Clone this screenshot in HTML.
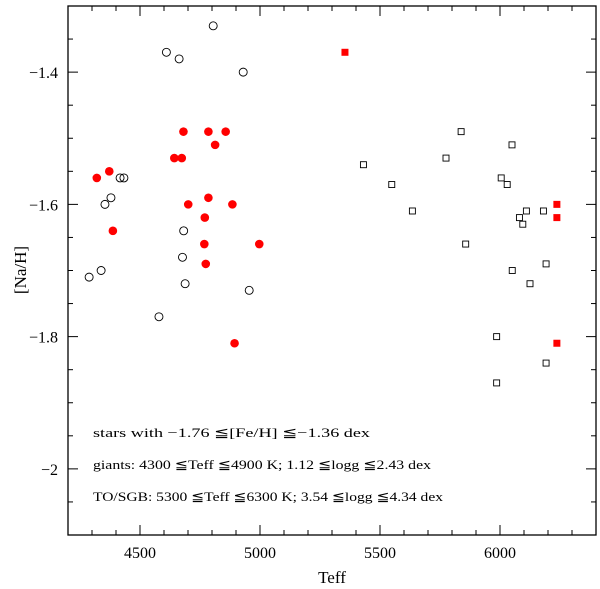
<!DOCTYPE html>
<html><head><meta charset="utf-8"><style>
html,body{margin:0;padding:0;background:#fff;}
svg{display:block;font-family:"Liberation Serif","DejaVu Serif",serif;}
</style></head><body>
<svg id="chart" width="600" height="589" viewBox="0 0 600 589" xmlns="http://www.w3.org/2000/svg">
<rect x="68" y="6" width="528" height="529" fill="none" stroke="#000" stroke-width="1.3"/>
<g id="ticks"></g>
<g id="points"></g>
<text x="93" y="437" font-size="13" textLength="277" lengthAdjust="spacingAndGlyphs">stars with −1.76 ≦[Fe/H] ≦−1.36 dex</text>
<text x="93" y="469" font-size="13" textLength="338" lengthAdjust="spacingAndGlyphs">giants: 4300 ≦Teff ≦4900 K; 1.12 ≦logg ≦2.43 dex</text>
<text x="93" y="501" font-size="13" textLength="350" lengthAdjust="spacingAndGlyphs">TO/SGB: 5300 ≦Teff ≦6300 K; 3.54 ≦logg ≦4.34 dex</text>
<text x="332" y="583" font-size="17" text-anchor="middle">Teff</text>
<text x="0" y="0" font-size="17" text-anchor="middle" transform="translate(26,270) rotate(-90)">[Na/H]</text>
</svg>
<script>
const xTicks = [4500, 5000, 5500, 6000];
const xTickLabels = ["4500", "5000", "5500", "6000"];
const yTicks = [-1.4, -1.6, -1.8, -2.0];
const yTickLabels = ["−1.4", "−1.6", "−1.8", "−2"];
const giantOpenT = [4805,4610,4663,4930,4417,4433,4379,4354,4682,4677,4338,4288,4688,4955,4579];
const giantOpenNa = [-1.33,-1.37,-1.38,-1.40,-1.56,-1.56,-1.59,-1.60,-1.64,-1.68,-1.70,-1.71,-1.72,-1.73,-1.77];
const giantRedT = [4681,4785,4857,4813,4643,4674,4372,4320,4785,4701,4885,4770,4387,4768,4997,4774,4894];
const giantRedNa = [-1.49,-1.49,-1.49,-1.51,-1.53,-1.53,-1.55,-1.56,-1.59,-1.60,-1.60,-1.62,-1.64,-1.66,-1.66,-1.69,-1.81];
const dwarfOpenT = [5838,6050,5775,5431,5549,6005,6030,5635,6110,6181,6081,6095,5857,6192,6051,6125,5986,6192,5986];
const dwarfOpenNa = [-1.49,-1.51,-1.53,-1.54,-1.57,-1.56,-1.57,-1.61,-1.61,-1.61,-1.62,-1.63,-1.66,-1.69,-1.70,-1.72,-1.80,-1.84,-1.87];
const dwarfRedT = [5354,6237,6237,6237];
const dwarfRedNa = [-1.37,-1.60,-1.62,-1.81];

const X0=68,X1=596,Y0=6,Y1=535,TMIN=4200,TMAX=6400,NMIN=-2.1,NMAX=-1.3;
function xs(t){return X0+(t-TMIN)/(TMAX-TMIN)*(X1-X0);}
function ys(v){return Y0+(NMAX-v)/(NMAX-NMIN)*(Y1-Y0);}
const NS="http://www.w3.org/2000/svg";
function mk(tag,attrs,parent){const e=document.createElementNS(NS,tag);for(const k in attrs)e.setAttribute(k,attrs[k]);parent.appendChild(e);return e;}
const tg=document.getElementById('ticks'), pg=document.getElementById('points'), svg=document.getElementById('chart');
function line(x1,y1,x2,y2){const l=mk('line',{x1,y1,x2,y2,stroke:'#000','stroke-width':1},tg);

}
for(let t=4300;t<=6300;t+=100){const x=xs(t);const len=(t%500===0)?10:5;line(x,Y1,x,Y1-len);line(x,Y0,x,Y0+len);}
for(let k=0;k<=16;k++){const v=-2.1+k*0.05;const y=ys(v);const major=Math.abs(Math.round(v*100)%20)===0;const len=major?10:5;line(X0,y,X0+len,y);line(X1,y,X1-len,y);}
xTicks.forEach((t,i)=>{const e=mk('text',{x:xs(t),y:558,'font-size':16,'text-anchor':'middle'},svg);e.textContent=xTickLabels[i];

});
yTicks.forEach((v,i)=>{const e=mk('text',{x:58,y:ys(v)+6,'font-size':16,'text-anchor':'end'},svg);e.textContent=yTickLabels[i];

});
giantOpenT.forEach((t,i)=>{const c=mk('circle',{cx:xs(t),cy:ys(giantOpenNa[i]),r:4,fill:'none',stroke:'#000','stroke-width':0.9},pg);

});
giantRedT.forEach((t,i)=>{const c=mk('circle',{cx:xs(t),cy:ys(giantRedNa[i]),r:4.3,fill:'#f00'},pg);

});
dwarfOpenT.forEach((t,i)=>{const r=mk('rect',{x:xs(t)-3,y:ys(dwarfOpenNa[i])-3,width:6,height:6,fill:'none',stroke:'#000','stroke-width':0.9},pg);

});
dwarfRedT.forEach((t,i)=>{const r=mk('rect',{x:xs(t)-3.5,y:ys(dwarfRedNa[i])-3.5,width:7,height:7,fill:'#f00'},pg);

});
</script>
</body></html>
